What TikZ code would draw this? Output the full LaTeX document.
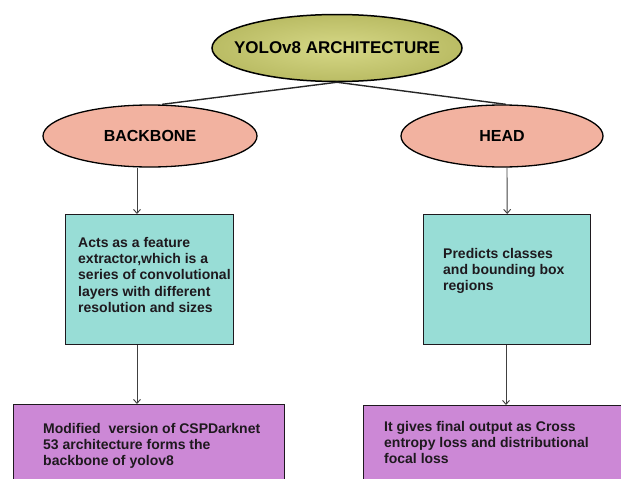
\documentclass[tikz,border=0pt]{standalone}
\usepackage{fontspec}
\setmainfont{Liberation Sans}
\usetikzlibrary{shapes.geometric,arrows.meta}
\definecolor{olivefill}{RGB}{186,188,100}
\definecolor{olivelight}{RGB}{214,216,135}
\definecolor{salmon}{RGB}{242,178,160}
\definecolor{aqua}{RGB}{152,221,214}
\definecolor{orchid}{RGB}{204,136,214}
\definecolor{inkdark}{RGB}{30,25,30}
\tikzset{
  topell/.style={ellipse,draw=black,line width=1.5pt,inner color=olivelight,outer color=olivefill,inner xsep=-15pt,inner ysep=0pt,minimum width=250pt,minimum height=67pt,font=\bfseries\fontsize{17}{20}\selectfont},
  subell/.style={ellipse,draw=black,line width=1.3pt,fill=salmon,inner xsep=0pt,inner ysep=0pt,minimum height=62pt,font=\bfseries\fontsize{16}{19}\selectfont},
  midbox/.style={rectangle,draw=inkdark,line width=1.4pt,fill=aqua,anchor=north west},
  lowbox/.style={rectangle,draw=inkdark,line width=1.4pt,fill=orchid,anchor=north west},
  boxtext/.style={anchor=north west,align=left,inner sep=0pt,text=inkdark,font=\bfseries\fontsize{14}{16.3}\selectfont},
  link/.style={line width=1.4pt,draw=black!85},
  arr/.style={line width=0.9pt,draw=black!75,-{Straight Barb[length=4pt,width=7pt]}}
}
\begin{document}
\begin{tikzpicture}[x=1pt,y=-1pt]
\useasboundingbox (0,0) rectangle (621,479);
\clip (0,0) rectangle (621,479);
\node[topell] (top) at (337,48) {YOLOv8 ARCHITECTURE};
\node[subell,minimum width=214pt] (bb) at (150,136) {BACKBONE};
\node[subell,minimum width=202pt] (hd) at (502,136) {HEAD};
\node[midbox,minimum width=168pt,minimum height=130pt] (b1) at (65,214) {};
\node[midbox,minimum width=167pt,minimum height=130pt] (h1) at (423,214) {};
\node[lowbox,minimum width=271pt,minimum height=110pt] (b2) at (13,404) {};
\node[lowbox,minimum width=280pt,minimum height=110pt] (h2) at (363,405) {};
\node[boxtext] (t1) at (78,237) {Acts as a feature\\extractor,which is a\\series of convolutional\\layers with different\\resolution and sizes};
\node[boxtext] (t2) at (443,248) {Predicts classes\\and bounding box\\regions};
\node[boxtext] (t3) at (43,423) {Modified\ \ version of CSPDarknet\\53 architecture forms the\\backbone of yolov8};
\node[boxtext] (t4) at (384,421) {It gives final output as Cross\\entropy loss and distributional\\focal loss};
\draw[link] (top.south) -- ([xshift=12pt]bb.north);
\draw[link] (top.south) -- ([xshift=4pt]hd.north);
\draw[arr] ([xshift=-13pt]bb.south) -- (b1.north -| {(137,0)});
\draw[arr] ([xshift=5pt]hd.south) -- (h1.north);
\draw[arr] (b1.south -| {(137,0)}) -- (b2.north -| {(137,0)});
\draw[arr] (h1.south -| {(506,0)}) -- (h2.north -| {(506,0)});
\end{tikzpicture}
\end{document}
